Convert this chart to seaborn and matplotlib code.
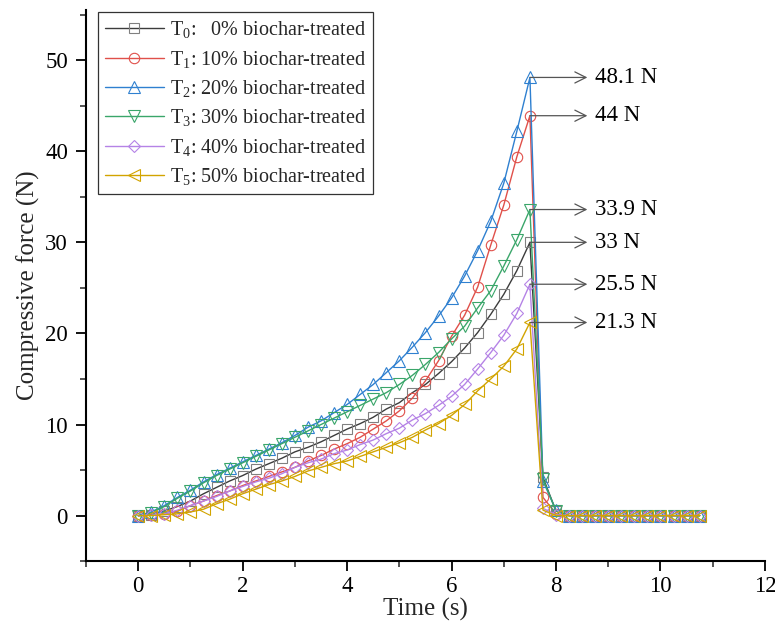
import numpy as np
import pandas as pd
import seaborn as sns
import matplotlib.pyplot as plt

# --- data ---
time = [i * 0.25 for i in range(44)]  # 0 ... 10.75 s

t0 = [0, 0.1, 0.5, 1.0, 1.6, 2.4, 3.1, 3.8, 4.4, 5.1, 5.7, 6.3, 7.0, 7.5, 8.1, 8.8,
      9.5, 10.1, 10.8, 11.7, 12.4, 13.5, 14.4, 15.6, 16.9, 18.4, 20.1, 22.1, 24.3, 26.9, 30.0,
      4.2, 0.5] + [0] * 11
t1 = [0, 0.05, 0.2, 0.5, 1.1, 1.6, 2.2, 2.7, 3.3, 3.8, 4.3, 4.8, 5.3, 6.0, 6.6, 7.3,
      7.9, 8.6, 9.5, 10.4, 11.5, 12.9, 14.8, 17.0, 19.7, 22.0, 25.1, 29.7, 34.1, 39.4, 43.9,
      2.0, 0.2] + [0] * 11
t2 = [0, 0.4, 1.1, 2.0, 2.8, 3.7, 4.5, 5.2, 5.9, 6.6, 7.3, 8.0, 8.8, 9.7, 10.4, 11.3,
      12.2, 13.3, 14.4, 15.7, 17.0, 18.5, 20.1, 21.9, 23.9, 26.3, 29.1, 32.3, 36.5, 42.2, 48.1,
      3.8, 0.6] + [0] * 11
t3 = [0, 0.3, 1.0, 1.9, 2.7, 3.6, 4.4, 5.1, 5.8, 6.5, 7.2, 7.9, 8.6, 9.3, 10.0, 10.7,
      11.4, 12.1, 12.8, 13.5, 14.4, 15.4, 16.6, 17.9, 19.4, 20.8, 22.8, 24.7, 27.4, 30.3, 33.6,
      4.0, 0.5] + [0] * 11
t4 = [0, 0.05, 0.2, 0.6, 1.1, 1.6, 2.1, 2.7, 3.2, 3.7, 4.1, 4.6, 5.3, 5.8, 6.2, 6.8,
      7.2, 7.8, 8.3, 9.0, 9.6, 10.5, 11.2, 12.1, 13.1, 14.4, 16.1, 17.9, 19.8, 22.2, 25.4,
      0.8, 0.1] + [0] * 11
t5 = [0, 0.0, 0.1, 0.2, 0.4, 0.7, 1.3, 1.8, 2.4, 2.9, 3.4, 3.8, 4.3, 4.9, 5.3, 5.7,
      6.0, 6.5, 7.0, 7.5, 8.0, 8.6, 9.4, 10.1, 11.0, 12.2, 13.7, 15.0, 16.4, 18.3, 21.2,
      0.6, 0.0] + [0] * 11

labels = [r"T$_\mathregular{0}$:   0% biochar-treated",
          r"T$_\mathregular{1}$: 10% biochar-treated",
          r"T$_\mathregular{2}$: 20% biochar-treated",
          r"T$_\mathregular{3}$: 30% biochar-treated",
          r"T$_\mathregular{4}$: 40% biochar-treated",
          r"T$_\mathregular{5}$: 50% biochar-treated"]
peak_text = ["33 N", "44 N", "48.1 N", "33.9 N", "25.5 N", "21.3 N"]

series = [t0, t1, t2, t3, t4, t5]
colors = ["#3c3c3c", "#e0504a", "#2f80d0", "#3aa66a", "#b583e6", "#d2a400"]
marker_colors = ["#808080", "#e0504a", "#2f80d0", "#3aa66a", "#b583e6", "#d2a400"]
markers = ["s", "o", "^", "v", "D", "<"]
msizes = [7, 7.5, 8, 8, 6.5, 8]

# --- style ---
sns.set_style("ticks")
plt.rcParams["font.family"] = ["Liberation Serif", "DejaVu Serif"]
plt.rcParams["mathtext.fontset"] = "custom"
plt.rcParams["mathtext.rm"] = "Liberation Serif"
plt.rcParams["mathtext.it"] = "Liberation Serif:italic"

fig = plt.figure(figsize=(7.75, 6.27), dpi=100)
ax = fig.add_axes([0.111, 0.105, 0.876, 0.879])

for vals, lab, c, mc, m, ms in zip(series, labels, colors, marker_colors, markers, msizes):
    df = pd.DataFrame({"Time": time, "Force": vals})
    sns.lineplot(data=df, x="Time", y="Force", ax=ax, color=c, linewidth=1.0,
                 marker=m, markersize=ms, markerfacecolor="none", markeredgecolor=mc,
                 markeredgewidth=0.8, label=lab)

# peak annotations
for vals, txt in zip(series, peak_text):
    i = int(np.argmax(vals))
    ax.annotate("", xy=(8.6, vals[i]), xytext=(time[i], vals[i]),
                arrowprops=dict(arrowstyle="->", color="#555555", lw=0.9,
                                mutation_scale=20, shrinkA=0, shrinkB=0))
    ax.text(8.74, vals[i], txt, fontsize=16.5, va="center", ha="left", color="black")

ax.set_xlim(-1, 12)
ax.set_ylim(-5, 55.5)
ax.set_xticks(np.arange(0, 13, 2))
ax.set_xticks(np.arange(-1, 12.1, 1), minor=True)
ax.set_yticks(np.arange(0, 51, 10))
ax.set_yticks(np.arange(-5, 55.1, 5), minor=True)
ax.tick_params(axis="both", which="major", direction="out", length=7, width=1.3,
               labelsize=16.5, colors="black", pad=6)
ax.tick_params(axis="x", which="major", pad=4)
ax.tick_params(axis="both", which="minor", direction="out", length=4, width=1.1)
for s in ["top", "right"]:
    ax.spines[s].set_visible(False)
for s in ["left", "bottom"]:
    ax.spines[s].set_linewidth(1.5)
    ax.spines[s].set_color("black")

ax.set_xlabel("Time (s)", fontsize=18, labelpad=0)
ax.set_ylabel("Compressive force (N)", fontsize=18, labelpad=4)

leg = ax.legend(loc="upper left", bbox_to_anchor=(0.015, 1.0), fontsize=14.5,
                frameon=True, fancybox=False, edgecolor="black", handlelength=2.9,
                labelspacing=0.42, borderpad=0.35, handletextpad=0.3, borderaxespad=0.1)
leg.get_frame().set_linewidth(0.9)

fig.savefig("out.png", dpi=100)
